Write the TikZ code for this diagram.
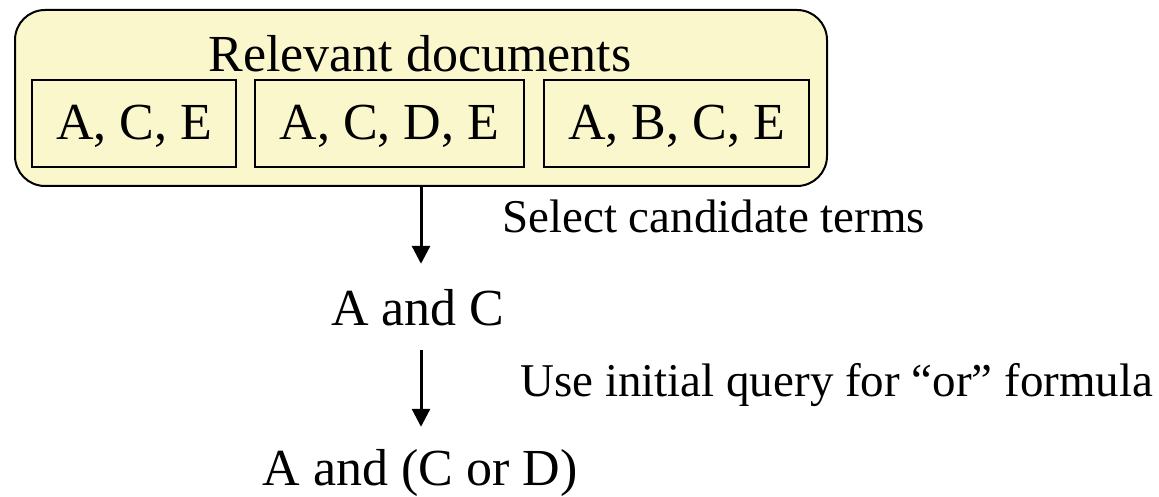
\documentclass[tikz,border=0pt]{standalone}
\usepackage{fontspec}
\setmainfont{Liberation Serif}
\usetikzlibrary{arrows.meta}
\definecolor{docfill}{RGB}{251,247,205}
\begin{document}
\begin{tikzpicture}[x=1pt,y=-1pt,
  mainfont/.style={font=\fontsize{52}{60}\selectfont},
  labelfont/.style={font=\fontsize{47}{56}\selectfont},
  docbox/.style={draw, line width=2pt, minimum height=87pt, inner sep=0pt,
    text height=50pt, text depth=17pt, mainfont},
  flow/.style={-{Triangle[width=18pt,length=18pt]}, line width=3pt}]
\useasboundingbox (0,0) rectangle (1159,497);
\node[draw, rounded corners=30pt, fill=docfill, line width=2pt,
  minimum width=812pt, minimum height=176pt, inner sep=0pt] (outer) at (421,98) {};
\node[mainfont, anchor=base, inner sep=0pt] (title) at (420,72) {Relevant documents};
\node[docbox, minimum width=204pt] (d1) at (134,123.5) {A, C, E};
\node[docbox, minimum width=269pt] (d2) at (389.5,123.5) {A, C, D, E};
\node[docbox, minimum width=265pt] (d3) at (676.5,123.5) {A, B, C, E};
\node[mainfont, anchor=base, inner sep=0pt, text height=61pt, text depth=25pt] (ac) at (418,325) {A and C};
\node[mainfont, anchor=base, inner sep=0pt, text height=58pt, text depth=12pt] (acd) at (420,485) {A and (C or D)};
\node[labelfont, anchor=base west, inner sep=0pt] (l1) at (502,233) {Select candidate terms};
\node[labelfont, anchor=base west, inner sep=0pt] (l2) at (520,396) {Use initial query for “or” formula};
\draw[flow] (outer.south) -- (outer.south |- ac.north);
\draw[flow] (outer.south |- ac.south) -- (outer.south |- acd.north);
\end{tikzpicture}
\end{document}
